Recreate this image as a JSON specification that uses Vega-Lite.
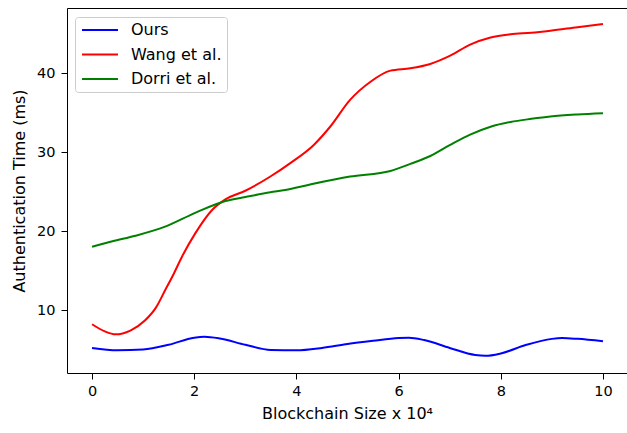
{
  "$schema": "https://vega.github.io/schema/vega-lite/v6.json",
  "autosize": {"type": "none"},
  "padding": {"left": 67, "top": 8, "right": 0, "bottom": 60},
  "width": 560,
  "height": 365,
  "background": "white",
  "config": {
    "view": {"stroke": "#000", "strokeWidth": 1},
    "font": "DejaVu Sans",
    "axis": {
      "grid": false,
      "domain": false,
      "tickColor": "#000",
      "tickSize": 6,
      "tickWidth": 1,
      "labelColor": "#000",
      "labelFontSize": 14.5,
      "labelFont": "DejaVu Sans",
      "titleColor": "#000",
      "titleFontSize": 16,
      "titleFont": "DejaVu Sans",
      "titleFontWeight": "normal"
    }
  },
  "data": {
    "values": [
      {"x": 0, "y": 5.2, "series": "Ours"},
      {"x": 0.5, "y": 4.9, "series": "Ours"},
      {"x": 1, "y": 5.0, "series": "Ours"},
      {"x": 1.5, "y": 5.6, "series": "Ours"},
      {"x": 2, "y": 6.5, "series": "Ours"},
      {"x": 2.2, "y": 6.62, "series": "Ours"},
      {"x": 2.5, "y": 6.4, "series": "Ours"},
      {"x": 3, "y": 5.6, "series": "Ours"},
      {"x": 3.5, "y": 4.95, "series": "Ours"},
      {"x": 4, "y": 4.9, "series": "Ours"},
      {"x": 4.5, "y": 5.2, "series": "Ours"},
      {"x": 5, "y": 5.7, "series": "Ours"},
      {"x": 5.5, "y": 6.1, "series": "Ours"},
      {"x": 6, "y": 6.45, "series": "Ours"},
      {"x": 6.2, "y": 6.5, "series": "Ours"},
      {"x": 6.5, "y": 6.2, "series": "Ours"},
      {"x": 7, "y": 5.2, "series": "Ours"},
      {"x": 7.5, "y": 4.3, "series": "Ours"},
      {"x": 7.7, "y": 4.2, "series": "Ours"},
      {"x": 8, "y": 4.5, "series": "Ours"},
      {"x": 8.5, "y": 5.6, "series": "Ours"},
      {"x": 9, "y": 6.35, "series": "Ours"},
      {"x": 9.2, "y": 6.45, "series": "Ours"},
      {"x": 9.5, "y": 6.35, "series": "Ours"},
      {"x": 10, "y": 6.05, "series": "Ours"},

      {"x": 0, "y": 8.2, "series": "Wang et al."},
      {"x": 0.25, "y": 7.3, "series": "Wang et al."},
      {"x": 0.46, "y": 6.92, "series": "Wang et al."},
      {"x": 0.75, "y": 7.4, "series": "Wang et al."},
      {"x": 1.04, "y": 8.7, "series": "Wang et al."},
      {"x": 1.25, "y": 10.3, "series": "Wang et al."},
      {"x": 1.43, "y": 12.5, "series": "Wang et al."},
      {"x": 1.6, "y": 14.6, "series": "Wang et al."},
      {"x": 1.76, "y": 16.75, "series": "Wang et al."},
      {"x": 2.02, "y": 19.7, "series": "Wang et al."},
      {"x": 2.35, "y": 22.66, "series": "Wang et al."},
      {"x": 2.61, "y": 24.0, "series": "Wang et al."},
      {"x": 3.0, "y": 25.1, "series": "Wang et al."},
      {"x": 3.49, "y": 26.9, "series": "Wang et al."},
      {"x": 3.88, "y": 28.6, "series": "Wang et al."},
      {"x": 4.34, "y": 30.9, "series": "Wang et al."},
      {"x": 4.66, "y": 33.2, "series": "Wang et al."},
      {"x": 5.05, "y": 36.6, "series": "Wang et al."},
      {"x": 5.45, "y": 38.9, "series": "Wang et al."},
      {"x": 5.84, "y": 40.3, "series": "Wang et al."},
      {"x": 6.23, "y": 40.6, "series": "Wang et al."},
      {"x": 6.62, "y": 41.15, "series": "Wang et al."},
      {"x": 7.01, "y": 42.2, "series": "Wang et al."},
      {"x": 7.4, "y": 43.6, "series": "Wang et al."},
      {"x": 7.8, "y": 44.5, "series": "Wang et al."},
      {"x": 8.19, "y": 44.9, "series": "Wang et al."},
      {"x": 8.6, "y": 45.1, "series": "Wang et al."},
      {"x": 8.97, "y": 45.36, "series": "Wang et al."},
      {"x": 9.5, "y": 45.8, "series": "Wang et al."},
      {"x": 10, "y": 46.2, "series": "Wang et al."},

      {"x": 0, "y": 18.0, "series": "Dorri et al."},
      {"x": 0.4, "y": 18.7, "series": "Dorri et al."},
      {"x": 0.85, "y": 19.4, "series": "Dorri et al."},
      {"x": 1.43, "y": 20.55, "series": "Dorri et al."},
      {"x": 2.02, "y": 22.3, "series": "Dorri et al."},
      {"x": 2.61, "y": 23.8, "series": "Dorri et al."},
      {"x": 3.0, "y": 24.3, "series": "Dorri et al."},
      {"x": 3.49, "y": 24.9, "series": "Dorri et al."},
      {"x": 3.78, "y": 25.2, "series": "Dorri et al."},
      {"x": 4.27, "y": 25.9, "series": "Dorri et al."},
      {"x": 5.05, "y": 26.9, "series": "Dorri et al."},
      {"x": 5.84, "y": 27.6, "series": "Dorri et al."},
      {"x": 6.23, "y": 28.5, "series": "Dorri et al."},
      {"x": 6.62, "y": 29.5, "series": "Dorri et al."},
      {"x": 7.01, "y": 30.9, "series": "Dorri et al."},
      {"x": 7.4, "y": 32.2, "series": "Dorri et al."},
      {"x": 7.8, "y": 33.2, "series": "Dorri et al."},
      {"x": 8.19, "y": 33.8, "series": "Dorri et al."},
      {"x": 8.6, "y": 34.2, "series": "Dorri et al."},
      {"x": 8.97, "y": 34.5, "series": "Dorri et al."},
      {"x": 9.5, "y": 34.75, "series": "Dorri et al."},
      {"x": 10, "y": 34.9, "series": "Dorri et al."}
    ]
  },
  "mark": {"type": "line", "interpolate": "monotone", "strokeWidth": 2},
  "encoding": {
    "x": {
      "field": "x",
      "type": "quantitative",
      "scale": {"domain": [-0.49, 10.47], "nice": false, "zero": false},
      "axis": {"values": [0, 2, 4, 6, 8, 10], "title": "Blockchain Size x 10⁴", "labelPadding": 5, "titlePadding": 8}
    },
    "y": {
      "field": "y",
      "type": "quantitative",
      "scale": {"domain": [2.03, 48.23], "nice": false, "zero": false},
      "axis": {"values": [10, 20, 30, 40], "title": "Authentication Time (ms)", "labelPadding": 6, "titlePadding": 9}
    },
    "color": {
      "field": "series",
      "type": "nominal",
      "sort": ["Ours", "Wang et al.", "Dorri et al."],
      "scale": {"domain": ["Ours", "Wang et al.", "Dorri et al."], "range": ["#0000ff", "#ff0000", "#008000"]},
      "legend": {
        "title": null,
        "orient": "none",
        "legendX": 8,
        "legendY": 9,
        "symbolType": "M-1,0H5",
        "symbolStrokeWidth": 2,
        "symbolSize": 144,
        "labelFontSize": 16,
        "labelFont": "DejaVu Sans",
        "labelColor": "#000",
        "labelOffset": 35,
        "rowPadding": 8.5,
        "padding": 5,
        "fillColor": "white",
        "strokeColor": "#cccccc",
        "cornerRadius": 3
      }
    }
  }
}
